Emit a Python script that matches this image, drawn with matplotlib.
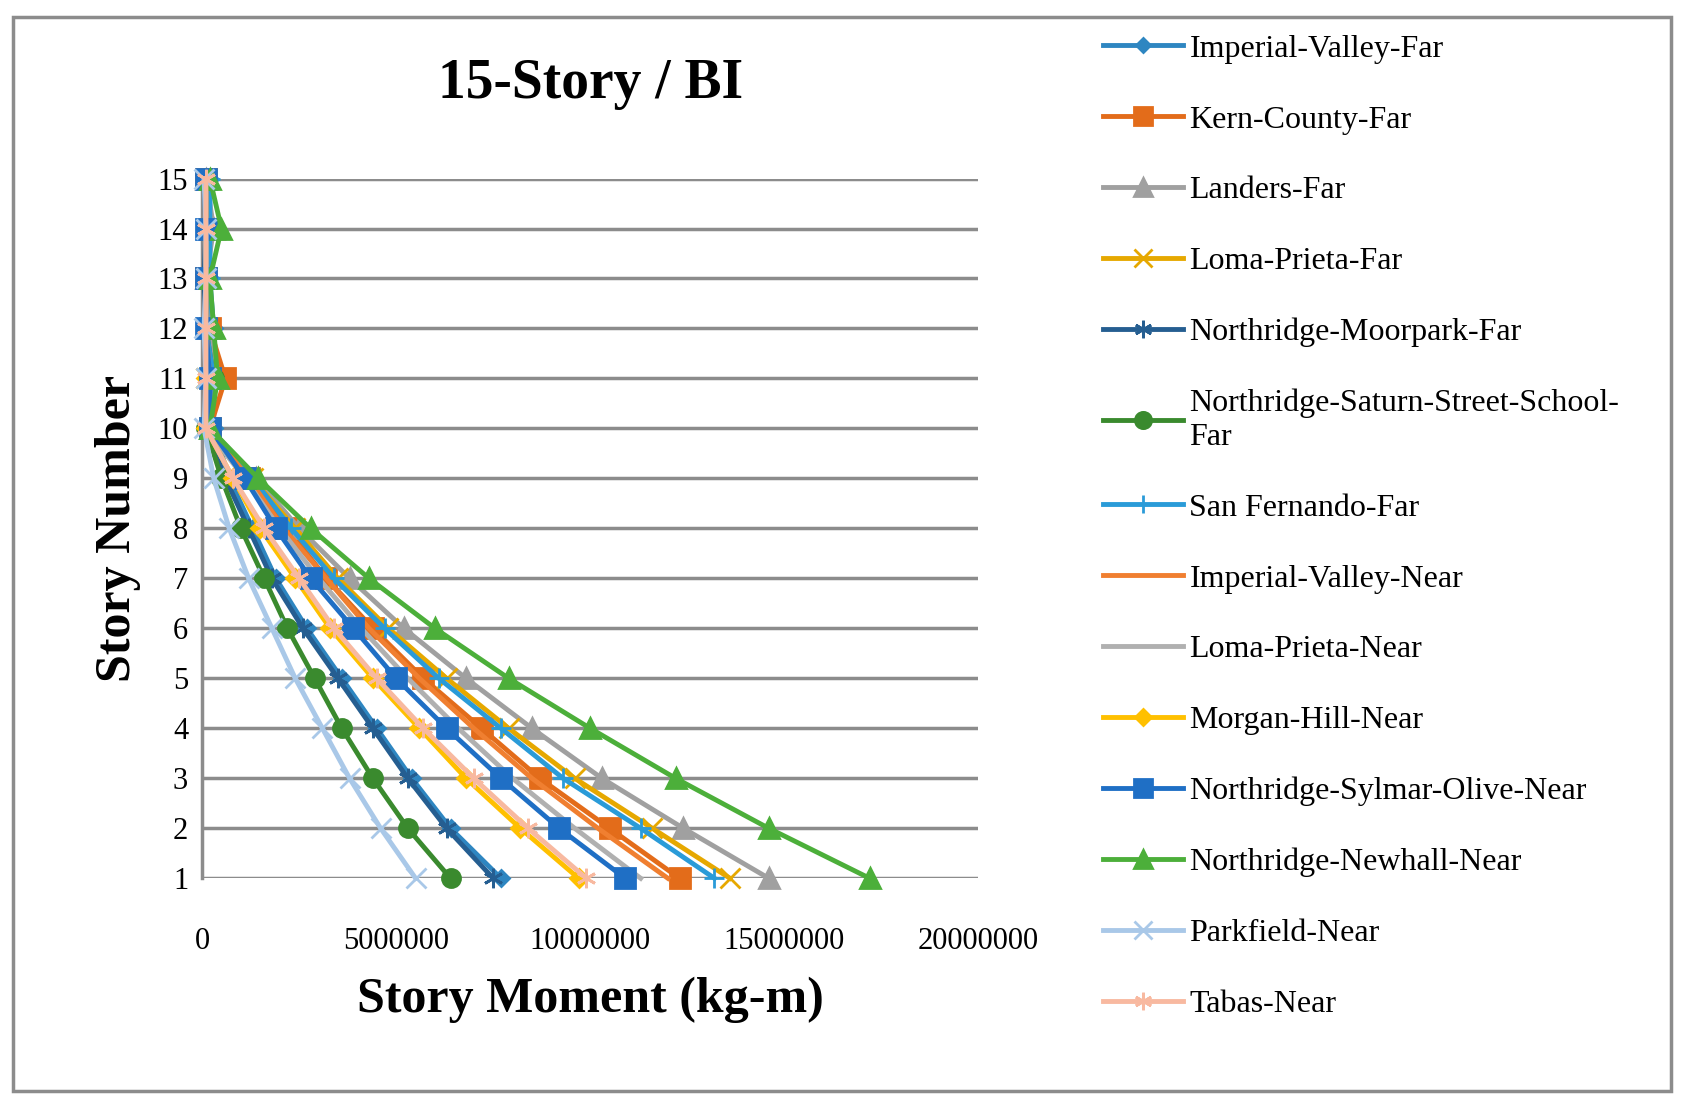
import numpy as np
import matplotlib.pyplot as plt
from matplotlib.lines import Line2D

stories = list(range(1, 16))

names = ['Imperial-Valley-Far', 'Kern-County-Far', 'Landers-Far', 'Loma-Prieta-Far',
         'Northridge-Moorpark-Far', 'Northridge-Saturn-Street-School-\nFar', 'San Fernando-Far',
         'Imperial-Valley-Near', 'Loma-Prieta-Near', 'Morgan-Hill-Near',
         'Northridge-Sylmar-Olive-Near', 'Northridge-Newhall-Near', 'Parkfield-Near', 'Tabas-Near']

# story moments in 1e6 kg-m, story 1..15
iv_far = [7.7, 6.4, 5.4, 4.5, 3.6, 2.7, 1.9, 1.3, 0.7, 0.3, 0.3, 0.3, 0.2, 0.2, 0.2]
kern_far = [12.3, 10.5, 8.7, 7.2, 5.7, 4.4, 3.2, 2.2, 1.2, 0.2, 0.6, 0.2, 0.1, 0.2, 0.1]
landers_far = [14.6, 12.4, 10.3, 8.5, 6.8, 5.2, 3.8, 2.5, 1.4, 0.2, 0.3, 0.2, 0.1, 0.3, 0.1]
lp_far = [13.6, 11.6, 9.6, 7.9, 6.3, 4.8, 3.5, 2.4, 1.3, 0.2, 0.1, 0.1, 0.1, 0.2, 0.1]
moorpark_far = [7.5, 6.3, 5.3, 4.4, 3.5, 2.6, 1.8, 1.2, 0.6, 0.1, 0.2, 0.1, 0.05, 0.1, 0.05]
saturn_far = [6.4, 5.3, 4.4, 3.6, 2.9, 2.2, 1.6, 1.0, 0.5, 0.1, 0.3, 0.1, 0.1, 0.2, 0.1]
sanfern_far = [13.2, 11.3, 9.3, 7.7, 6.1, 4.7, 3.4, 2.3, 1.3, 0.2, 0.3, 0.1, 0.2, 0.2, 0.2]
iv_near = [12.0, 10.2, 8.5, 7.0, 5.6, 4.3, 3.2, 2.1, 1.2, 0.2, 0.2, 0.1, 0.1, 0.1, 0.1]
lp_near = [11.3, 9.6, 8.0, 6.6, 5.3, 4.1, 3.0, 2.0, 1.1, 0.1, 0.1, 0.1, 0.1, 0.1, 0.1]
morgan_near = [9.7, 8.2, 6.8, 5.6, 4.4, 3.3, 2.4, 1.5, 0.8, 0.1, 0.1, 0.1, 0.1, 0.1, 0.1]
sylmar_near = [10.9, 9.2, 7.7, 6.3, 5.0, 3.9, 2.8, 1.9, 1.1, 0.2, 0.2, 0.1, 0.1, 0.1, 0.1]
newhall_near = [17.2, 14.6, 12.2, 10.0, 7.9, 6.0, 4.3, 2.8, 1.45, 0.2, 0.4, 0.3, 0.2, 0.5, 0.2]
parkfield_near = [5.5, 4.6, 3.8, 3.1, 2.4, 1.8, 1.2, 0.7, 0.3, 0.05, 0.1, 0.05, 0.1, 0.1, 0.05]
tabas_near = [9.9, 8.4, 7.0, 5.7, 4.5, 3.4, 2.5, 1.6, 0.8, 0.1, 0.1, 0.1, 0.1, 0.1, 0.1]

series = [iv_far, kern_far, landers_far, lp_far, moorpark_far, saturn_far, sanfern_far,
          iv_near, lp_near, morgan_near, sylmar_near, newhall_near, parkfield_near, tabas_near]
colors = ['#2E86C1', '#E36C1A', '#A0A0A0', '#E6A800', '#255E91', '#3A8A2E', '#2A9BD8',
          '#F07F30', '#B0B0B0', '#FFC000', '#1F6FC5', '#4CAF3A', '#A9C8E8', '#F8B9A0']
markers = ['D', 's', '^', 'x', (6, 2, 0), 'o', '+', None, None, 'D', 's', '^', 'x', (6, 2, 0)]
msizes = [8, 14, 14, 14, 14, 13, 15, 0, 0, 9, 14, 14, 14, 14]

plt.rcParams['font.family'] = ['Liberation Serif', 'DejaVu Serif']

fig = plt.figure(figsize=(16.84, 11.02), dpi=100)
ax = fig.add_axes([0.12, 0.203, 0.461, 0.635])

handles = []
for name, vals, c, m, ms in zip(names, series, colors, markers, msizes):
    ax.plot(np.array(vals) * 1e6, stories, color=c, lw=3.5, marker=m, ms=ms,
            mew=2, clip_on=False, zorder=3, label=name)
    handles.append(Line2D([0], [0], color=c, lw=3.5, marker=m, ms=ms * 0.9, mew=2))

ax.set_xlim(0, 2e7)
ax.set_ylim(1, 15)
ax.set_yticks(stories)
ax.set_xticks([0, 5e6, 1e7, 1.5e7, 2e7])
ax.set_xticklabels(['0', '5000000', '10000000', '15000000', '20000000'])
ax.tick_params(axis='both', labelsize=22, length=0, pad=10)
ax.tick_params(axis='x', pad=35)
ax.grid(axis='y', color='#8C8C8C', lw=2.5)
for s in ['top', 'right', 'bottom']:
    ax.spines[s].set_visible(False)
ax.spines['left'].set_color('#8C8C8C')
ax.spines['left'].set_linewidth(2.5)
ax.set_axisbelow(True)

ax.set_title('15-Story / BI', fontsize=40, fontweight='bold', pad=58)
ax.set_xlabel('Story Moment (kg-m)', fontsize=36, fontweight='bold', labelpad=15)
ax.set_ylabel('Story Number', fontsize=36, fontweight='bold', labelpad=12)

fig.legend(handles, names, loc='upper left', bbox_to_anchor=(0.638, 0.995), frameon=False,
           fontsize=23, labelspacing=1.3, handlelength=2.5, handletextpad=0.2)

fig.patches.append(plt.Rectangle((0.008, 0.01), 0.984, 0.975, transform=fig.transFigure,
                                 fill=False, edgecolor='#8C8C8C', lw=2.5))

plt.savefig('out.png', dpi=100)
